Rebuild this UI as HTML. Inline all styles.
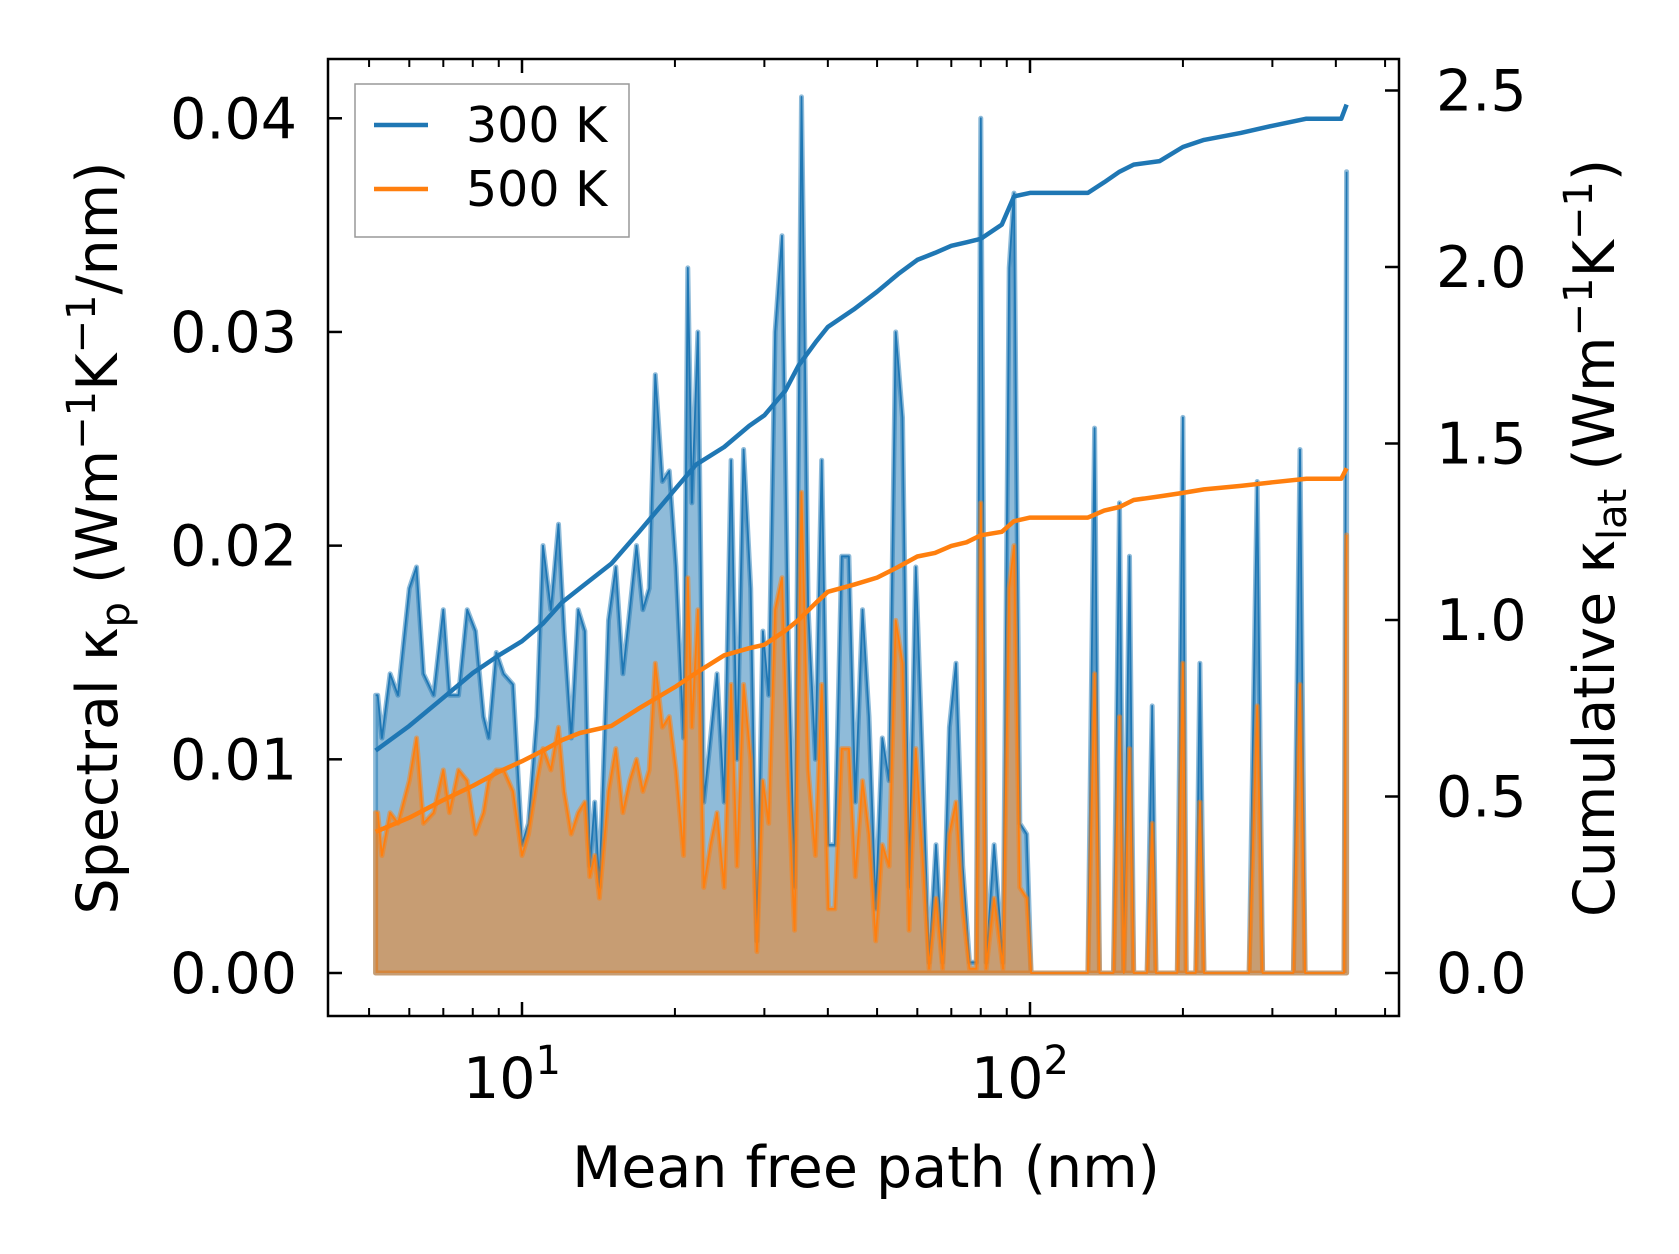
<!DOCTYPE html>
<html><head><meta charset="utf-8"><style>
html,body{margin:0;padding:0;background:#fff}
svg{display:block;font-family:"DejaVu Sans","Liberation Sans",sans-serif}
</style></head><body>
<svg id="chart" width="1679" height="1254" viewBox="0 0 1679 1254" xmlns="http://www.w3.org/2000/svg">
<rect width="1679" height="1254" fill="#fff"/>
<g id="marks"></g>
<g id="axes"></g>
<rect x="328" y="59" width="1071" height="957" fill="none" stroke="#000" stroke-width="2.5"/>
<g>
<rect x="355" y="84" width="274" height="153" fill="#fff" fill-opacity="0.8" stroke="#999" stroke-width="1.5"/>
<line x1="374" y1="125" x2="428" y2="125" stroke="#1f77b4" stroke-width="4.5"/>
<text x="466" y="142" font-size="49">300 K</text>
<line x1="374" y1="189" x2="428" y2="189" stroke="#ff7f0e" stroke-width="4.5"/>
<text x="466" y="206" font-size="49">500 K</text>
</g>
<text x="866" y="1187" font-size="57" text-anchor="middle">Mean free path (nm)</text>
<text transform="translate(117,538) rotate(-90)" font-size="57" text-anchor="middle">Spectral κ<tspan font-size="40" dy="12">p</tspan><tspan dy="-12"> (Wm</tspan><tspan font-size="40" dy="-22">−1</tspan><tspan dy="22">K</tspan><tspan font-size="40" dy="-22">−1</tspan><tspan dy="22">/nm)</tspan></text>
<text transform="translate(1614,538) rotate(-90)" font-size="57" text-anchor="middle">Cumulative κ<tspan font-size="40" dy="12">lat</tspan><tspan dy="-12"> (Wm</tspan><tspan font-size="40" dy="-22">−1</tspan><tspan dy="22">K</tspan><tspan font-size="40" dy="-22">−1</tspan><tspan dy="22">)</tspan></text>
</svg>
<script>
const mfp = [5.15,5.2,5.3,5.5,5.7,6.0,6.2,6.4,6.7,7.0,7.2,7.5,7.8,8.1,8.4,8.6,8.9,9.2,9.6,10.0,10.3,10.7,11.0,11.4,11.8,12.1,12.5,12.9,13.3,13.6,13.9,14.2,14.8,15.3,15.8,16.3,16.8,17.3,17.8,18.3,18.9,19.5,20.1,20.8,21.2,21.6,22.2,22.8,23.5,24.2,25.0,25.8,26.5,27.3,28.2,29.0,29.8,30.6,31.5,32.5,33.4,34.4,35.5,36.6,37.8,38.9,40.1,41.3,42.6,44.0,45.3,46.8,48.2,49.7,51.2,52.8,54.4,56.1,57.8,59.6,61.4,63.3,65.3,67.3,69.4,71.5,73.7,76.0,78.4,80.0,82.0,85.0,88.5,91.0,93.0,95.5,98.5,100.5,130,134,137,146,150,153,157,160,170,174,177,195,200,203,212,216,220,270,280,287,330,340,348,415,420];
const spec300 = [0.013,0.013,0.011,0.014,0.013,0.018,0.019,0.014,0.013,0.017,0.013,0.013,0.017,0.016,0.012,0.011,0.015,0.014,0.0135,0.006,0.007,0.012,0.020,0.017,0.021,0.016,0.011,0.017,0.016,0.005,0.008,0.004,0.0165,0.019,0.014,0.017,0.020,0.017,0.018,0.028,0.023,0.0235,0.019,0.011,0.033,0.022,0.030,0.008,0.011,0.014,0.008,0.024,0.010,0.0245,0.018,0.0015,0.016,0.013,0.030,0.0345,0.016,0.004,0.041,0.017,0.010,0.024,0.006,0.006,0.0195,0.0195,0.008,0.017,0.012,0.003,0.011,0.009,0.030,0.026,0.004,0.019,0.010,0.0005,0.006,0.0005,0.0115,0.0145,0.005,0.0005,0.0005,0.040,0.0005,0.006,0.0005,0.033,0.0365,0.007,0.0065,0,0,0.0255,0,0,0.022,0,0.0195,0,0,0.0125,0,0,0.026,0,0,0.0145,0,0,0.023,0,0,0.0245,0,0,0.0375];
const spec500 = [0.0075,0.0075,0.0055,0.0075,0.007,0.009,0.011,0.007,0.0075,0.0095,0.0075,0.0095,0.009,0.0065,0.0075,0.009,0.0095,0.0095,0.0085,0.0055,0.0065,0.009,0.0105,0.0095,0.0115,0.0085,0.0065,0.0075,0.008,0.0045,0.0055,0.0035,0.0085,0.0105,0.0075,0.009,0.010,0.0085,0.0095,0.0145,0.0115,0.012,0.0095,0.0055,0.0185,0.0115,0.017,0.004,0.006,0.0075,0.004,0.0135,0.005,0.0135,0.010,0.001,0.009,0.007,0.017,0.0185,0.009,0.002,0.0225,0.0095,0.0055,0.0135,0.003,0.003,0.0105,0.0105,0.0045,0.009,0.0065,0.0015,0.006,0.005,0.0165,0.0145,0.002,0.0105,0.0055,0.0002,0.0035,0.0002,0.0065,0.008,0.003,0.0002,0.0002,0.022,0.0002,0.0035,0.0002,0.018,0.020,0.004,0.0035,0,0,0.014,0,0,0.012,0,0.0105,0,0,0.007,0,0,0.0145,0,0,0.008,0,0,0.0125,0,0,0.0135,0,0,0.0205];
const cumX = [5.15,6,7,8,9,10,11,12,13,15,17,20,22,25,28,30,33,35,38,40,45,50,55,60,65,70,75,80,88,93,100,120,130,140,150,160,180,200,220,260,300,350,410,420];
const cum300 = [0.63,0.70,0.78,0.85,0.90,0.94,0.99,1.05,1.09,1.16,1.25,1.37,1.44,1.49,1.55,1.58,1.65,1.72,1.79,1.83,1.88,1.93,1.98,2.02,2.04,2.06,2.07,2.08,2.12,2.20,2.21,2.21,2.21,2.24,2.27,2.29,2.30,2.34,2.36,2.38,2.40,2.42,2.42,2.46];
const cum500 = [0.40,0.44,0.49,0.53,0.57,0.60,0.63,0.66,0.68,0.70,0.75,0.81,0.85,0.90,0.92,0.93,0.97,1.00,1.05,1.08,1.10,1.12,1.15,1.18,1.19,1.21,1.22,1.24,1.25,1.28,1.29,1.29,1.29,1.31,1.32,1.34,1.35,1.36,1.37,1.38,1.39,1.40,1.40,1.43];
const leftTicks = [0,0.01,0.02,0.03,0.04];
const leftTickLabels = ["0.00","0.01","0.02","0.03","0.04"];
const rightTicks = [0,0.5,1.0,1.5,2.0,2.5];
const rightTickLabels = ["0.0","0.5","1.0","1.5","2.0","2.5"];
const xMajor = [10,100];
const xMajorExp = ["1","2"];
const xMinor = [5,6,7,8,9,20,30,40,50,60,70,80,90,200,300,400,500];

const NS="http://www.w3.org/2000/svg";
const X0=328,X1=1399,Y0=59,Y1=1016;
const sx = v => 522 + (Math.log10(v)-1)*508;
const syL = v => 973 - v*21368;
const syR = v => 973 - v*353;
function mk(tag,attrs,parent){const e=document.createElementNS(NS,tag);for(const k in attrs)e.setAttribute(k,attrs[k]);parent.appendChild(e);return e;}
const marks=document.getElementById('marks'), axes=document.getElementById('axes');

function spectral(vals,color,name){
  let pts = mfp.map((x,i)=>sx(x).toFixed(1)+','+syL(vals[i]).toFixed(1));
  const first=sx(mfp[0]).toFixed(1), last=sx(mfp[mfp.length-1]).toFixed(1), z=syL(0).toFixed(1);
  const fill=mk('polygon',{points:first+','+z+' '+pts.join(' ')+' '+last+','+z,fill:color,'fill-opacity':0.5,stroke:color,'stroke-opacity':0.5,'stroke-width':5,'stroke-linejoin':'round'},marks);
  
  
  const ln=mk('polyline',{points:pts.join(' '),fill:'none',stroke:color,'stroke-width':1.8,'stroke-linejoin':'round'},marks);
  
  
}
spectral(spec300,'#1f77b4','spectral-300k');
spectral(spec500,'#ff7f0e','spectral-500k');
function cum(vals,color,name){
  const ln=mk('polyline',{points:cumX.map((x,i)=>sx(x).toFixed(1)+','+syR(vals[i]).toFixed(1)).join(' '),fill:'none',stroke:color,'stroke-width':4.5,'stroke-linejoin':'round'},marks);
  
  
}
cum(cum300,'#1f77b4','cumulative-300k-line');
cum(cum500,'#ff7f0e','cumulative-500k-line');

leftTicks.forEach((v,i)=>{
  const y=syL(v);
  mk('line',{x1:X0,y1:y,x2:X0+14,y2:y,stroke:'#000','stroke-width':2.5},axes);
  const t=mk('text',{x:297,y:y+20,'font-size':57,'text-anchor':'end'},axes);
  t.textContent=leftTickLabels[i];
  
  
});
rightTicks.forEach((v,i)=>{
  const y=syR(v);
  mk('line',{x1:X1,y1:y,x2:X1-14,y2:y,stroke:'#000','stroke-width':2.5},axes);
  const t=mk('text',{x:1436,y:y+20,'font-size':57},axes);
  t.textContent=rightTickLabels[i];
  
  
});
xMajor.forEach((v,i)=>{
  const x=sx(v);
  mk('line',{x1:x,y1:Y1,x2:x,y2:Y1-14,stroke:'#000','stroke-width':2.5},axes);
  mk('line',{x1:x,y1:Y0,x2:x,y2:Y0+14,stroke:'#000','stroke-width':2.5},axes);
  const t=mk('text',{x:x-10,y:1098,'font-size':57,'text-anchor':'middle'},axes);
  t.textContent='10';
  const s=mk('tspan',{'font-size':40,dy:-24},t); s.textContent=xMajorExp[i];
  
  
});
xMinor.forEach(v=>{
  const x=sx(v);
  if(x<X0||x>X1) return;
  mk('line',{x1:x,y1:Y1,x2:x,y2:Y1-8,stroke:'#000','stroke-width':2},axes);
  mk('line',{x1:x,y1:Y0,x2:x,y2:Y0+8,stroke:'#000','stroke-width':2},axes);
});
</script>
</body></html>
